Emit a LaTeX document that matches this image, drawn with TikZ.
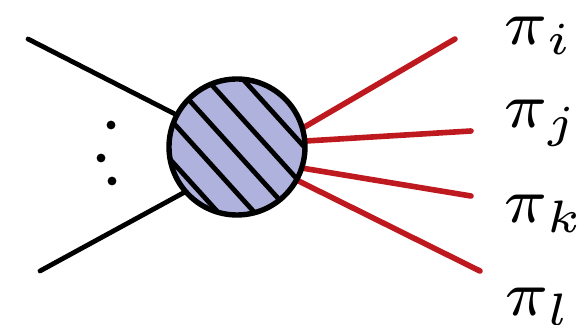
\documentclass[tikz,border=0pt]{standalone}
\usepackage{graphicx}
\usetikzlibrary{calc}
\definecolor{blobfill}{RGB}{175,178,220}
\definecolor{pired}{RGB}{190,25,30}
\newcommand{\biglab}[1]{\scalebox{4.55}{$\scriptstyle #1$}}
\begin{document}
\begin{tikzpicture}[x=0.5pt,y=-0.5pt,
  blobstyle/.style={circle,draw=black,line width=2.7pt,fill=blobfill,minimum size=68pt,inner sep=0pt,outer sep=0pt},
  leg/.style={line width=2.4pt,line cap=round,black},
  pileg/.style={line width=2.8pt,line cap=round,pired},
  hatchline/.style={line width=2.4pt,black},
  dotstyle/.style={circle,fill=black,inner sep=0pt,minimum size=4.4pt},
  lab/.style={anchor=base west,inner sep=0pt}]
\useasboundingbox (0,0) rectangle (586,325);
% free ends
\coordinate (a1) at (28,39);
\coordinate (a2) at (40,271);
\coordinate (oi) at (455,39);
\coordinate (oj) at (471,131);
\coordinate (ok) at (471,196);
\coordinate (ol) at (480,271);
% blob placeholder for anchors
\path (237,147) node[blobstyle,draw=none,fill=none] (blob) {};
% legs
\draw[leg] (a1) -- (blob.152);
\draw[leg] (a2) -- (blob.221);
\draw[pileg] (blob.16) -- (oi);
\draw[pileg] (blob.5) -- (oj);
\draw[pileg] (blob.-18) -- (ok);
\draw[pileg] (blob.-29) -- (ol);
% blob fill + hatch + border
\fill[blobfill] (blob.center) circle[radius=68];
\begin{scope}
  \clip (blob.center) circle[radius=68];
  \foreach \o in {-58,-31,-4,23,50} {
    \draw[hatchline] ($(blob.center)+(0.74*\o,-0.67*\o)+(-0.67*90,-0.74*90)$) -- ($(blob.center)+(0.74*\o,-0.67*\o)+(0.67*90,0.74*90)$);
  }
\end{scope}
\node[blobstyle,fill=none] (blobborder) at (237,147) {};
% dots
\node[dotstyle] (d1) at (111,125) {};
\node[dotstyle] (d2) at (101,158) {};
\node[dotstyle] (d3) at (112,181) {};
% labels
\node[lab] (li) at (503,45) {\biglab{\pi_i}};
\node[lab] (lj) at (503,128) {\biglab{\pi_j}};
\node[lab] (lk) at (503,223) {\biglab{\pi_k}};
\node[lab] (ll) at (504,316) {\biglab{\pi_l}};
\end{tikzpicture}
\end{document}
